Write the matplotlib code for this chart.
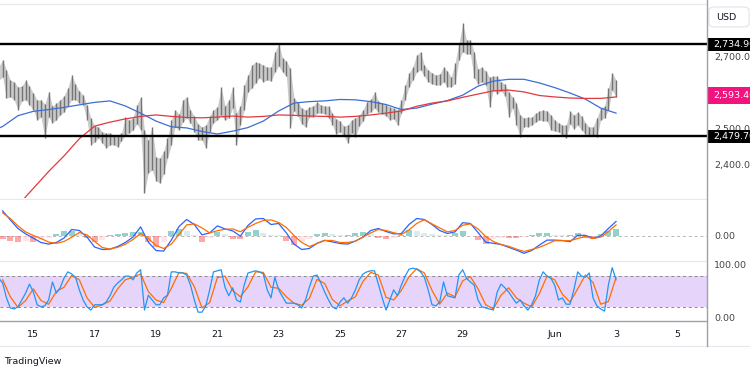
import matplotlib
matplotlib.use("Agg")
import matplotlib.pyplot as plt
import matplotlib.dates as mdates
import matplotlib.transforms as mtransforms
from matplotlib.patches import Rectangle, FancyBboxPatch
from matplotlib.lines import Line2D
import pandas as pd
from datetime import datetime

# ---------------- data ----------------
bar_start = "2025-05-13 21:00"   # 3-hour bars
high = [2673,2692,2664,2636,2631,2617,2619,2636,2619,2600,
        2581,2581,2569,2603,2564,2572,2581,2592,2614,2650,
        2625,2606,2594,2567,2531,2508,2506,2492,2489,2489,
        2483,2483,2489,2533,2525,2531,2567,2589,2497,2469,
        2506,2422,2419,2439,2475,2525,2553,2542,2581,2589,
        2553,2536,2514,2506,2511,2536,2553,2561,2617,2564,
        2581,2617,2544,2564,2622,2650,2678,2686,2683,2678,
        2672,2672,2714,2736,2697,2689,2669,2586,2575,2558,
        2553,2561,2564,2575,2567,2564,2564,2544,2528,2522,
        2508,2511,2525,2531,2539,2553,2575,2583,2603,2578,
        2572,2567,2561,2558,2553,2581,2622,2656,2672,2706,
        2714,2678,2664,2656,2650,2653,2672,2661,2644,2683,
        2736,2794,2747,2747,2714,2667,2672,2661,2644,2647,
        2647,2631,2625,2603,2589,2572,2539,2531,2533,2533,
        2544,2550,2553,2550,2539,2525,2517,2511,2511,2550,
        2539,2547,2536,2517,2506,2506,2531,2558,2564,2614,
        2656,2636]
low = [2636,2644,2586,2589,2581,2553,2578,2581,2567,2553,
       2525,2533,2475,2533,2517,2525,2539,2547,2564,2581,
       2581,2572,2567,2525,2456,2464,2475,2461,2447,2456,
       2456,2450,2467,2483,2489,2497,2514,2497,2322,2378,
       2386,2356,2350,2375,2419,2456,2506,2497,2519,2531,
       2517,2492,2469,2469,2447,2492,2517,2525,2539,2525,
       2531,2558,2456,2511,2553,2603,2614,2628,2642,2631,
       2636,2633,2658,2675,2658,2647,2503,2550,2536,2514,
       2506,2533,2533,2544,2544,2542,2531,2511,2486,2492,
       2481,2461,2489,2478,2508,2522,2542,2547,2558,2547,
       2542,2536,2525,2528,2511,2544,2581,2617,2636,2658,
       2664,2647,2631,2625,2622,2622,2631,2617,2617,2625,
       2692,2714,2708,2708,2642,2625,2631,2622,2561,2608,
       2597,2606,2592,2533,2558,2511,2478,2506,2506,2511,
       2519,2525,2522,2522,2497,2494,2492,2483,2475,2514,
       2500,2511,2497,2486,2483,2481,2478,2525,2531,2553,
       2608,2589]
stoch_k = [75,66,38,19,17,21,34,47,64,49,
           25,21,23,34,68,47,57,75,87,83,
           77,53,34,21,15,25,25,25,30,42,
           58,66,72,79,79,72,85,91,15,43,
           34,25,25,38,43,87,87,85,85,81,
           62,34,11,11,23,53,87,89,91,58,
           42,57,34,30,62,85,87,89,87,83,
           53,38,77,53,40,28,28,28,25,19,
           34,58,79,81,66,49,34,21,17,30,
           38,28,38,53,72,83,87,89,89,64,
           38,15,34,53,42,62,79,92,94,92,
           87,77,53,25,23,30,68,42,40,38,
           81,91,75,68,62,34,21,19,17,15,
           49,64,57,49,38,28,34,23,15,25,
           42,72,87,79,75,62,34,38,26,26,
           53,87,79,77,85,38,23,17,13,62,
           95,72]

ind_start = "2025-05-14 00:00"   # 6-hour samples
stoch_d = [72,40,20,33,55,33,26,50,58,80,
           72,38,20,25,32,55,72,77,83,50,
           34,29,56,86,84,59,19,29,76,79,
           52,40,59,87,86,58,56,40,28,24,
           37,73,65,35,23,32,40,69,86,81,
           39,34,52,78,93,85,52,26,47,40,
           70,78,55,25,17,43,57,38,28,21,
           46,79,72,45,30,55,81,67,26,31,
           76]
macd = [12.4,7.9,3.6,0.9,-1.2,-3.4,-4.2,-3.4,-1.2,3.1,
        2.6,-0.7,-5.7,-6.9,-6.7,-5.4,-3.4,-0.7,4.4,-3.2,
        -7.4,-7.7,-2.2,4.6,8.1,5.6,0.4,1.4,4.9,3.4,
        2.4,-0.2,5.1,8.4,8.6,5.6,6.1,1.4,-4.2,-6.9,
        -6.4,-3.8,-2.3,-3.1,-3.9,-4.2,-2.7,-0.7,2.6,3.6,
        2.1,0.9,1.1,5.6,8.6,8.1,5.6,2.6,1.1,1.9,
        6.5,6.1,1.6,-3.2,-3.8,-4.4,-5.8,-7.2,-8.8,-7.4,
        -4.7,-2.2,-2.2,-2.4,-3.0,0.2,0.2,-1.3,-0.2,3.6,
        7.1]
signal = [11.4,8.6,4.9,1.9,0.1,-1.4,-3.2,-3.8,-2.9,-0.8,
          1.6,0.4,-2.9,-5.9,-6.7,-5.8,-4.3,-1.9,1.1,-1.4,
          -4.9,-6.4,-4.2,0.6,5.4,5.9,3.9,1.4,2.5,3.2,
          3.4,2.0,4.2,6.1,7.6,7.9,6.6,4.1,0.1,-3.4,
          -5.4,-3.9,-2.4,-2.4,-3.4,-3.4,-2.7,-0.7,1.4,3.1,
          2.6,1.5,0.6,2.9,6.1,8.0,5.9,3.9,1.9,2.6,
          5.2,5.9,3.4,-0.4,-2.9,-4.4,-5.3,-6.7,-7.9,-6.9,
          -5.8,-4.2,-2.5,-2.5,-2.5,-1.4,-0.4,-1.4,-0.7,2.1,
          5.4]
hist = [-1.5,-2.5,-3,-2.5,-3,-2,-1,1,2.5,2.5,
        1,-1,-3,-2,0.5,1,1.5,2,2,-3,
        -5.5,-3,2.5,3.5,2.5,0.5,-3,-1,2,1,
        -1.5,-1.5,2,3,1.5,0.5,0.3,-2.5,-4.5,-3,
        -1.5,1,1.5,1,0.3,0.5,1.5,2,1,-1,
        -1.5,-1,0.5,3,2.5,1.5,1,0.5,0.3,1.5,
        2.5,0,-2,-4,-1.5,-1,-1,-1,-0.5,0.3,
        1.5,1.5,0.5,0.3,0.5,1.5,-1,-1.5,1,2.5,
        3.5]

ma_fast_start = "2025-05-13 12:00"   # 12-hour samples
ma_fast = [2488,2507,2537,2549,2554,2560,2567,2574,2578,2564,
           2544,2522,2506,2503,2493,2486,2494,2504,2522,2550,
           2572,2576,2578,2582,2581,2576,2568,2554,2558,2569,
           2579,2594,2619,2633,2638,2638,2628,2615,2600,2583,
           2558,2544]
ma_slow_start = "2025-05-14 12:00"
ma_slow = [2288,2335,2382,2425,2473,2508,2519,2528,2535,2539,
           2535,2532,2531,2533,2536,2533,2535,2539,2538,2536,
           2535,2533,2535,2539,2544,2550,2563,2572,2578,2588,
           2597,2606,2608,2603,2593,2589,2586,2585,2585,2589]

resistance = 2734.9
support = 2479.7
last_price = 2593.4
price_ticks = [2400, 2500, 2600, 2700]
date_ticks = ["2025-05-15", "2025-05-17", "2025-05-19", "2025-05-21", "2025-05-23",
              "2025-05-25", "2025-05-27", "2025-05-29", "2025-06-01", "2025-06-03", "2025-06-05"]
date_labels = ["15", "17", "19", "21", "23", "25", "27", "29", "Jun", "3", "5"]

# ---------------- figure ----------------
W, H = 750, 375
fig = plt.figure(figsize=(7.5, 3.75), dpi=100)
fig.patch.set_facecolor("white")
FS = 6.8
TXT = "#131722"

def rect(x0, y0, x1, y1):
    return [x0 / W, 1 - y1 / H, (x1 - x0) / W, (y1 - y0) / H]

ax1 = fig.add_axes(rect(0, 4, 707, 198))
ax2 = fig.add_axes(rect(0, 199, 707, 260), sharex=ax1)
ax3 = fig.add_axes(rect(0, 261, 707, 321), sharex=ax1)

bt = mdates.date2num(pd.date_range(bar_start, periods=len(high), freq="3h").to_pydatetime())
it = mdates.date2num(pd.date_range(ind_start, periods=len(macd), freq="6h").to_pydatetime())
tf = mdates.date2num(pd.date_range(ma_fast_start, periods=len(ma_fast), freq="12h").to_pydatetime())
ts = mdates.date2num(pd.date_range(ma_slow_start, periods=len(ma_slow), freq="12h").to_pydatetime())

for ax in (ax1, ax2, ax3):
    for s in ax.spines.values():
        s.set_visible(False)
    ax.set_facecolor("none")
    ax.tick_params(axis="both", length=0, labelsize=FS, colors=TXT)
    ax.yaxis.tick_right()

# price pane
ax1.fill_between(bt, low, high, color="#a9a9a9", alpha=0.6, lw=0, zorder=1)
ax1.vlines(bt, low, high, color="#747474", lw=1.0, zorder=2)
ax1.plot(tf, ma_fast, color="#3b6ed6", lw=0.9, zorder=3)
ax1.plot(ts, ma_slow, color="#e0393e", lw=0.9, zorder=3)
ax1.axhline(resistance, color="black", lw=1.7, zorder=4)
ax1.axhline(support, color="black", lw=1.7, zorder=4)
ax1.set_ylim(2308.3, 2847.2)
ax1.set_yticks(price_ticks)
ax1.set_yticklabels([f"{v:,.2f}" for v in price_ticks])
ax1.tick_params(axis="y", pad=5, colors="#444444")

bl = mtransforms.blended_transform_factory(ax1.transAxes, ax1.transData)
def price_label(value, fc, hpx):
    h = hpx * 2.7778
    r = Rectangle((1.0, value - h / 2), 0.1, h, transform=bl, facecolor=fc,
                  edgecolor="none", clip_on=False, zorder=10)
    ax1.add_artist(r)
    ax1.text(1.0085, value, f"{value:,.2f}", transform=bl, color="white", fontsize=FS,
             ha="left", va="center", clip_on=False, zorder=11)
price_label(resistance, "black", 13)
price_label(support, "black", 13)
price_label(last_price, "#f2137f", 17)

# MACD pane
it_list = list(it)
for i, (t, h) in enumerate(zip(it_list, hist)):
    prev = hist[i - 1] if i > 0 else h
    if h >= 0:
        c = "#26a69a" if h >= prev else "#b2dfdb"
    else:
        c = "#ff5252" if h <= prev else "#ffcdd2"
    ax2.bar(t, h, width=0.2, color=c, alpha=0.5, lw=0, zorder=2)
ax2.axhline(0, color="#b8b8b8", lw=0.7, ls=(0, (3, 3)), zorder=1)
ax2.plot(it, macd, color="#2962ff", lw=0.9, zorder=3)
ax2.plot(it, signal, color="#ff6d00", lw=0.9, zorder=3)
ax2.set_ylim(-12.15, 18.35)
ax2.set_yticks([0])
ax2.set_yticklabels(["0.00"])
ax2.tick_params(axis="y", pad=5, colors="#444444")

# Stoch RSI pane
ax3.axhspan(20, 80, color="#e7d4fb", lw=0, zorder=0)
ax3.axhline(80, color="#8a8a8a", lw=0.7, ls=(0, (3, 3)), zorder=1)
ax3.axhline(20, color="#8a8a8a", lw=0.7, ls=(0, (3, 3)), zorder=1)
ax3.plot(bt, stoch_k, color="#2196f3", lw=0.9, zorder=3)
ax3.plot(it, stoch_d, color="#ff6d00", lw=0.9, zorder=2)
ax3.set_ylim(-5.66, 107.5)
ax3.set_yticks([0, 100])
ax3.set_yticklabels(["0.00", "100.00"])
ax3.tick_params(axis="y", pad=5, colors="#444444")

ax1.set_xlim(mdates.date2num(datetime(2025, 5, 13, 21, 56)),
             mdates.date2num(datetime(2025, 6, 5, 23, 11)))
ax3.set_xticks(mdates.date2num(pd.to_datetime(date_ticks).to_pydatetime()))
ax3.set_xticklabels(date_labels)
ax3.tick_params(axis="x", pad=6.5, colors=TXT)
plt.setp(ax1.get_xticklabels(), visible=False)
plt.setp(ax2.get_xticklabels(), visible=False)

# frame lines (figure pixel coordinates)
def hline(y, x0, x1, c, lw=0.8):
    fig.add_artist(Line2D([x0 / W, x1 / W], [1 - y / H, 1 - y / H], color=c, lw=lw,
                          transform=fig.transFigure))
hline(3.5, 0, 707, "#e6e8ee")
hline(198.5, 0, 707, "#e6e8ee")
hline(260.5, 0, 707, "#e6e8ee")
hline(321, 0, 707, "#9ea1aa", 1.0)
hline(346, 0, 750, "#e6e8ee")
fig.add_artist(Line2D([707 / W, 707 / W], [1 - 0 / H, 1 - 346 / H], color="#9ea1aa",
                      lw=1.0, transform=fig.transFigure))

# USD box
fig.add_artist(FancyBboxPatch((709 / W, 1 - 27 / H), 40 / W, 20 / H,
                              boxstyle="round,pad=0,rounding_size=0.008",
                              transform=fig.transFigure, facecolor="white",
                              edgecolor="#e0e3eb", lw=0.8))
fig.text(716 / W, 1 - 17 / H, "USD", fontsize=FS, color=TXT, ha="left", va="center")

fig.text(4 / W, 1 - 362 / H, "TradingView", fontsize=6.8, color=TXT, ha="left", va="center")

fig.savefig("out.png", dpi=100, facecolor="white")
